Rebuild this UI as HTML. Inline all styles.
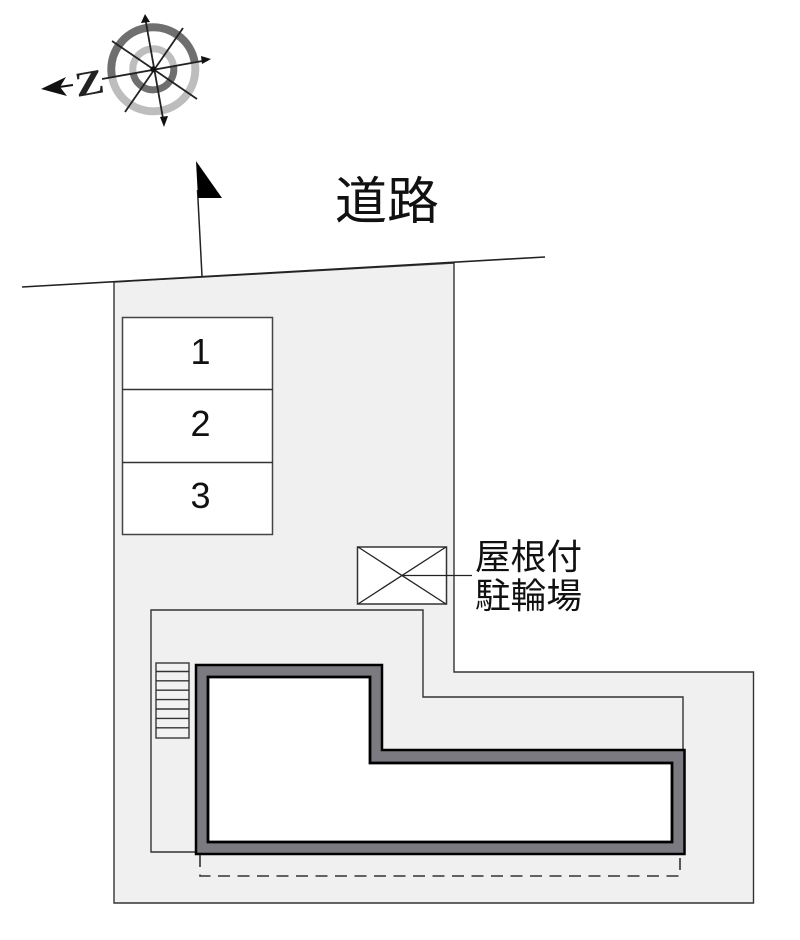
<!DOCTYPE html>
<html lang="ja">
<head>
<meta charset="utf-8">
<style>
html,body{margin:0;padding:0;background:#fff;width:800px;height:940px;overflow:hidden}
svg{display:block;filter:blur(.35px)}
text{font-family:"Liberation Sans","Noto Sans CJK JP",sans-serif;fill:#111}
</style>
</head>
<body>
<svg width="800" height="940" viewBox="0 0 800 940" xmlns="http://www.w3.org/2000/svg">
<rect width="800" height="940" fill="#fff"/>
<!-- compass rings -->
<g transform="translate(153.3 69.3) rotate(-10)" fill="none">
  <path d="M-42 0A42 42 0 0 1 42 0" stroke="#6f6f6f" stroke-width="8"/>
  <path d="M42 0A42 42 0 0 1 -42 0" stroke="#bdbdbd" stroke-width="8"/>
  <path d="M-20.5 0A20.5 20.5 0 0 1 20.5 0" stroke="#bdbdbd" stroke-width="7"/>
  <path d="M20.5 0A20.500 20.500 0 0 1 -20.5 0" stroke="#6f6f6f" stroke-width="7"/>
</g>
<g stroke="#222" stroke-width="1.8" fill="none">
  <line x1="145" y1="17" x2="164" y2="124"/>
  <line x1="102" y1="79" x2="208" y2="60"/>
  <line x1="112" y1="41" x2="197" y2="99"/>
  <line x1="183" y1="28" x2="125" y2="112"/>
</g>
<circle cx="153.3" cy="69.3" r="3" fill="#111"/>
<g fill="#111">
  <polygon points="145,14 141,23 150,22"/>
  <polygon points="211,59 201,56 202,64"/>
  <polygon points="164,127 160,117 168,116"/>
  <polygon points="41,89 66,77 60,87 67,96"/>
  <rect x="60" y="85" width="13" height="2" transform="rotate(-8 66 86)"/>
</g>
<text x="0" y="0" transform="translate(77 97) rotate(-10) scale(1.25 1)" style="font-family:'Liberation Serif',serif;font-weight:700;font-size:35px;fill:#222">Z</text>

<!-- flag -->
<line x1="197.5" y1="190" x2="202" y2="276" stroke="#222" stroke-width="1.5"/>
<polygon points="196,161 222,198 198,198" fill="#000"/>

<text x="335" y="219" font-size="51" textLength="104" lengthAdjust="spacingAndGlyphs">道路</text>

<!-- lot -->
<polygon points="114,282 454,263 454,672 753.5,672 753.5,903 114,903" fill="#f0f0f0" stroke="#333" stroke-width="1.4"/>
<line x1="22" y1="287" x2="545" y2="257" stroke="#222" stroke-width="1.600"/>

<!-- parking -->
<rect x="122.5" y="317.5" width="150" height="217" fill="#fff" stroke="#444" stroke-width="1.5"/>
<line x1="122" y1="389.500" x2="273" y2="389.500" stroke="#333" stroke-width="1.4"/>
<line x1="122" y1="462.500" x2="273" y2="462.500" stroke="#333" stroke-width="1.4"/>
<text x="200.5" y="364" font-size="36" text-anchor="middle">1</text>
<text x="200.5" y="436" font-size="36" text-anchor="middle">2</text>
<text x="200.5" y="508" font-size="36" text-anchor="middle">3</text>

<!-- bike shelter -->
<rect x="357.5" y="547" width="89" height="57" fill="#fff" stroke="#333" stroke-width="1.5"/>
<line x1="358" y1="547" x2="446" y2="604" stroke="#222" stroke-width="1.3"/>
<line x1="446" y1="547" x2="358" y2="604" stroke="#222" stroke-width="1.3"/>
<line x1="402" y1="575.5" x2="472" y2="575.5" stroke="#222" stroke-width="1.3"/>
<text x="475" y="569" font-size="35.5" textLength="107" lengthAdjust="spacingAndGlyphs">屋根付</text>
<text x="475" y="608" font-size="35.5" textLength="107" lengthAdjust="spacingAndGlyphs">駐輪場</text>

<!-- inner boundary -->
<polyline points="196,852 151,852 151,610 423,610 423,697 683,697 683,750" fill="#f0f0f0" stroke="#333" stroke-width="1.4"/>

<!-- stairs -->
<rect x="156" y="663" width="33" height="75" fill="#f2f2f2" stroke="#444" stroke-width="1.5"/>
<g stroke="#333" stroke-width="1.4">
  <line x1="156" y1="671.5" x2="189" y2="671.5"/>
  <line x1="156" y1="680.8" x2="189" y2="680.8"/>
  <line x1="156" y1="690.2" x2="189" y2="690.2"/>
  <line x1="156" y1="699.6" x2="189" y2="699.6"/>
  <line x1="156" y1="709" x2="189" y2="709"/>
  <line x1="156" y1="718.4" x2="189" y2="718.4"/>
  <line x1="156" y1="727.8" x2="189" y2="727.8"/>
</g>

<!-- building -->
<path d="M196 665H382V750H684.500V854H196Z" fill="#7b7a80" stroke="#000" stroke-width="2.500"/>
<path d="M208 677H370V763H672V842H208Z" fill="#fff" stroke="#000" stroke-width="2.800"/>

<!-- dashed outline -->
<polyline points="200,855 200,876 680,876 680,855" fill="none" stroke="#333" stroke-width="1.600" stroke-dasharray="12 7.500"/>
</svg>
</body>
</html>
